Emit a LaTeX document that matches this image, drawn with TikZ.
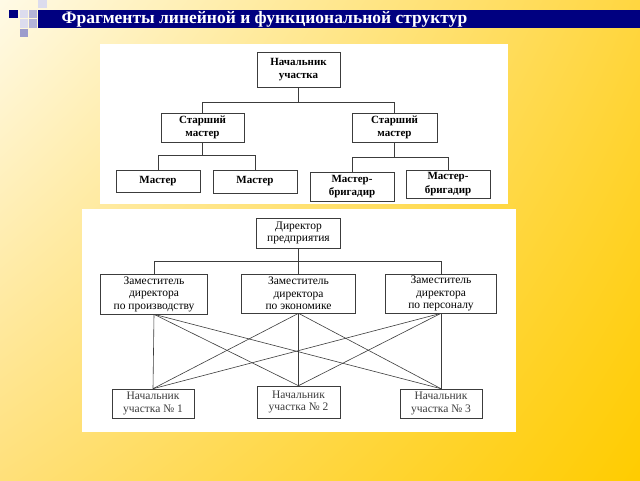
\documentclass[tikz,border=0pt]{standalone}
\usepackage{fontspec}
\setmainfont{Liberation Serif}
\usepackage{tikz}
\usetikzlibrary{positioning, shadings}
\usepackage{color}

\definecolor{navy}{HTML}{000080}
\definecolor{lav1}{HTML}{DCDCEE}
\definecolor{lav2}{HTML}{B4B4D8}
\definecolor{lav3}{HTML}{9C9CCC}
\definecolor{lineg}{HTML}{3C3C3C}
\definecolor{bgul}{HTML}{FFFAE6}
\definecolor{bgur}{HTML}{FFD640}
\definecolor{bgll}{HTML}{FFE07A}
\definecolor{bglr}{HTML}{FFCC00}

\begin{document}
\begin{tikzpicture}[x=1pt, y=-1pt,
  box/.style = {draw=lineg, line width=0.6pt, fill=white, align=center,
                inner sep=1pt, font=\fontsize{11.5}{12.5}\selectfont},
  bbox/.style = {box, font=\fontsize{11}{13.5}\selectfont\bfseries},
  link/.style = {draw=lineg, line width=0.6pt}]

\useasboundingbox (0,0) rectangle (640,480);
\shade[upper left=bgul, upper right=bgur, lower left=bgll, lower right=bglr] (0,0) rectangle (640,480);

% title bar
\fill[navy] (38,10) rectangle (640,28);
\fill[navy] (9,10) rectangle (18,18);
\fill[lav1] (20,10) rectangle (28,18);
\fill[lav2] (29,10) rectangle (37,18);
\fill[lav1] (38,0) rectangle (47,8);
\fill[lav1] (20,19) rectangle (28,28);
\fill[lav2] (29,19) rectangle (37,28);
\fill[lav3] (20,29) rectangle (28,37);
\node[anchor=west, text=white, font=\fontsize{17.5}{18}\selectfont\bfseries] (title) at (58,19.5)
  {Фрагменты линейной и функциональной структур};

% panels
\fill[white] (100,44) rectangle (508,204);
\fill[white] (82,209) rectangle (516,432);

% linear
\node[bbox, minimum width=83pt, minimum height=35pt] (nach) at (298.5,69.5) {Начальник\\участка};
\node[bbox, minimum width=83pt, minimum height=29pt] (sm1) at (202.5,127.5) {Старший\\мастер};
\node[bbox, minimum width=85pt, minimum height=29pt] (sm2) at (394.5,127.5) {Старший\\мастер};
\node[bbox, minimum width=84pt, minimum height=22pt] (m1) at (158,181) {Мастер};
\node[bbox, minimum width=84pt, minimum height=23pt] (m2) at (255,181.5) {Мастер};
\node[bbox, minimum width=84pt, minimum height=29pt] (mb1) at (352,186.5) {Мастер-\\бригадир};
\node[bbox, minimum width=84pt, minimum height=28pt] (mb2) at (448,184) {Мастер-\\бригадир};

\coordinate (j0) at (298.5,102);
\coordinate (j1) at (202.5,155);
\coordinate (j2) at (394.5,157);

\draw[link]
 (nach) -- (j0) -| (sm1)
 (j0) -| (sm2)
 (sm1) -- (j1) -| (m1)
 (j1) -| (m2)
 (sm2) -- (j2) -| (mb1)
 (j2) -| (mb2)
;

% functional
\node[box, minimum width=84pt, minimum height=30pt] (dir) at (298.5,233) {Директор\\предприятия};
\node[box, minimum width=107pt, minimum height=40pt] (z1) at (154,294) {Заместитель\\директора\\по производству};
\node[box, minimum width=114pt, minimum height=39pt] (z2) at (298.5,293.5) {Заместитель\\директора\\по экономике};
\node[box, minimum width=111pt, minimum height=39pt] (z3) at (441,293.5) {Заместитель\\директора\\по персоналу};
\node[box, text=lineg, minimum width=82pt, minimum height=29pt] (n1) at (153,403.5) {Начальник\\участка № 1};
\node[box, text=lineg, minimum width=83pt, minimum height=32pt] (n2) at (298.5,402) {Начальник\\участка № 2};
\node[box, text=lineg, minimum width=82pt, minimum height=29pt] (n3) at (441,403.5) {Начальник\\участка № 3};

\coordinate (j3) at (298.5,261);

\draw[link]
 (dir) -- (j3) -| (z1)
 (j3) -| (z2)
 (j3) -| (z3)

 (z1.south) edge (n1.north) edge (n2.north) edge (n3.north)
 (z2.south) edge (n1.north) edge (n2.north) edge (n3.north)
 (z3.south) edge (n1.north) edge (n2.north) edge (n3.north)
;

\end{tikzpicture}
\end{document}
